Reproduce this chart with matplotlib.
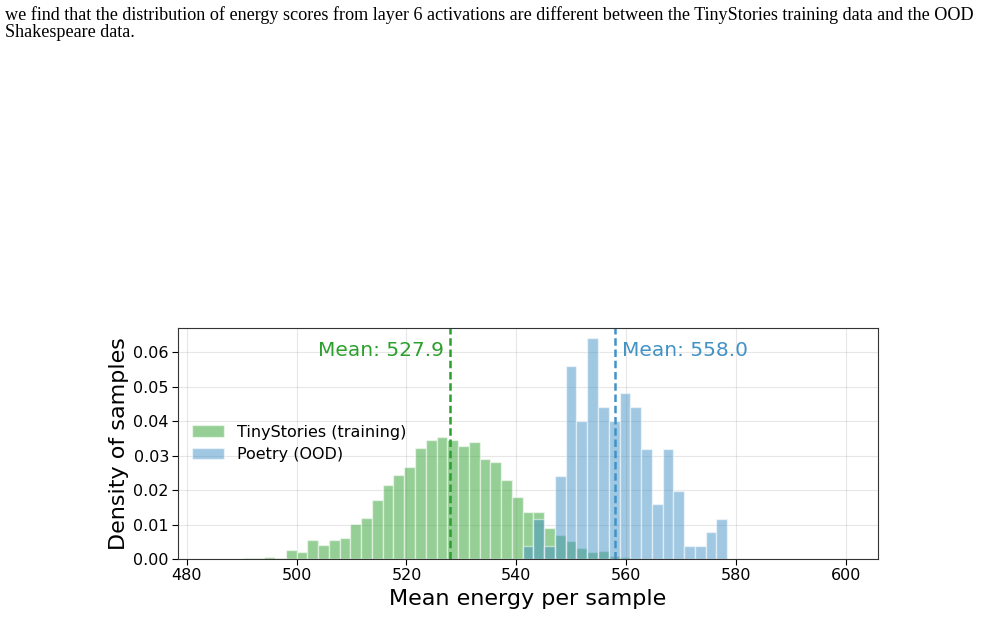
import numpy as np
import matplotlib
matplotlib.use("Agg")
from matplotlib import pyplot as plt

plt.rcParams["font.family"] = ["DejaVu Sans"]

# bin edges shared by both histograms (45 bins)
bin_lo = 490.2
bin_hi = 578.4
n_bins = 45

# density per bin
tiny_density = [0.0003, 0.0003, 0.0008, 0.0005, 0.0027, 0.0022, 0.0056, 0.0042,
                0.0057, 0.0062, 0.0101, 0.0121, 0.0172, 0.0214, 0.0245, 0.0266,
                0.0322, 0.0347, 0.0353, 0.0347, 0.0329, 0.0341, 0.0290, 0.0281,
                0.0229, 0.0181, 0.0137, 0.0138, 0.0090, 0.0069, 0.0054, 0.0033,
                0.0021, 0.0024, 0.0010, 0.0008, 0.0, 0.0, 0.0, 0.0,
                0.0, 0.0, 0.0, 0.0, 0.0]
poetry_density = [0.0, 0.0, 0.0, 0.0, 0.0, 0.0, 0.0, 0.0,
                  0.0, 0.0, 0.0, 0.0, 0.0, 0.0, 0.0, 0.0,
                  0.0, 0.0, 0.0, 0.0, 0.0, 0.0, 0.0, 0.0,
                  0.0, 0.0, 0.0039, 0.0118, 0.0039, 0.0240, 0.0561, 0.0401,
                  0.0641, 0.0440, 0.0401, 0.0481, 0.0440, 0.0320, 0.0159, 0.0320,
                  0.0199, 0.0039, 0.0039, 0.0079, 0.0118]

mean_tiny = 527.9
mean_poetry = 558.0

labels = ["TinyStories (training)", "Poetry (OOD)"]
green = "#2ca02c"
blue = "#4292c6"

caption = ("we find that the distribution of energy scores from layer 6 activations are different "
           "between the TinyStories training data and the OOD\nShakespeare data.")

edges = np.linspace(bin_lo, bin_hi, n_bins + 1)
width = edges[1] - edges[0]

fig = plt.figure(figsize=(9.85, 6.17), dpi=100)
fig.text(0.005, 0.99, caption, ha="left", va="top", family="Liberation Serif",
         fontsize=13.05, linespacing=0.98)

ax = fig.add_axes([0.1807, 0.0935, 0.7103, 0.3754])
ax.bar(edges[:-1], tiny_density, width=width, align="edge", color=green, alpha=0.5,
       edgecolor="white", linewidth=1, label=labels[0])
ax.bar(edges[:-1], poetry_density, width=width, align="edge", color=blue, alpha=0.5,
       edgecolor="white", linewidth=1, label=labels[1])

ax.axvline(mean_tiny, color=green, lw=1.8, linestyle=(0, (3, 1.5)))
ax.axvline(mean_poetry, color=blue, lw=1.8, linestyle=(0, (3, 1.5)))
ax.text(mean_tiny - 1.1, 0.0605, f"Mean: {mean_tiny:.1f}", color=green, ha="right",
        va="center", fontsize=14.5)
ax.text(mean_poetry + 1.3, 0.0605, f"Mean: {mean_poetry:.1f}", color=blue, ha="left",
        va="center", fontsize=14.5)

ax.set_xlim(478.4, 605.8)
ax.set_ylim(0, 0.0671)
ax.set_xticks([480, 500, 520, 540, 560, 580, 600])
ax.set_yticks([0, 0.01, 0.02, 0.03, 0.04, 0.05, 0.06])
ax.set_yticklabels([f"{v:.2f}" for v in [0, 0.01, 0.02, 0.03, 0.04, 0.05, 0.06]])
ax.tick_params(labelsize=11.5, length=4, pad=2.5)
ax.grid(True, alpha=0.3)
ax.set_axisbelow(True)
for s in ax.spines.values():
    s.set_color("#333333")

ax.set_xlabel("Mean energy per sample", fontsize=16, labelpad=4)
ax.set_ylabel("Density of samples", fontsize=16, labelpad=3)
ax.legend(loc="center left", bbox_to_anchor=(0.0, 0.5), frameon=False, fontsize=11.5)

plt.savefig("out.png", dpi=100)
